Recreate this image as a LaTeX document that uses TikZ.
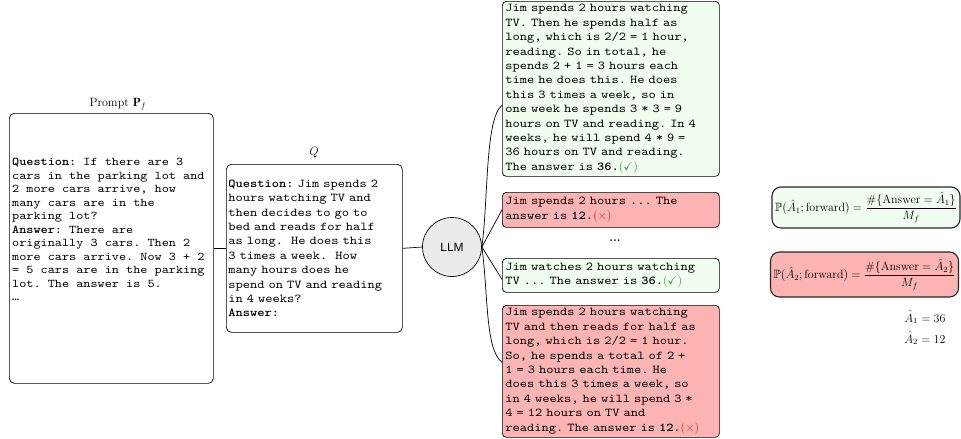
\documentclass[tikz,border=0pt]{standalone}
\usepackage{amsmath,amssymb}
\usepackage{fontspec}
\newfontfamily\monof{lmmono10-regular.otf}[BoldFont=lmmonolt10-bold.otf, FakeStretch=1.15]
\newfontfamily\sansf{Liberation Sans}
\usetikzlibrary{calc}
\definecolor{okfill}{RGB}{240,253,240}
\definecolor{badfill}{RGB}{255,180,180}
\definecolor{okgreen}{RGB}{40,160,40}
\definecolor{badred}{RGB}{235,30,30}
\definecolor{llmgray}{RGB}{235,235,235}
\newcommand{\okmark}{\textcolor{okgreen}{\normalfont($\checkmark$)}}
\newcommand{\badmark}{\textcolor{badred}{\normalfont($\times$)}}
\begin{document}
\begin{tikzpicture}[x=1pt,y=-1pt,
  every node/.append style={font=\fontsize{12}{14.4}\selectfont},
  box/.style={draw, rounded corners=5pt, line width=0.7pt},
  monotext/.style={font=\monof\fontsize{12}{14.4}\selectfont\frenchspacing},
  ans/.style={draw, rounded corners=4pt, line width=0.7pt, anchor=north west,
    inner xsep=3pt, inner ysep=0pt, text width=211pt, align=left, monotext},
  fbox/.style={draw=black!85, line width=1.1pt, rounded corners=9pt,
    inner xsep=1pt, inner ysep=3pt, minimum width=188pt},
  conn/.style={line width=0.7pt}]
\useasboundingbox (0,0) rectangle (961,439);

% Prompt
\node[box, anchor=north west, minimum width=204pt, minimum height=270pt] (prompt) at (9,113) {};
\node (plabel) at (118,104) {Prompt $\mathbf{P}_f$};
\node[anchor=north west, inner sep=0pt, align=left,
  font=\monof\fontsize{11.8}{13.5}\selectfont\frenchspacing] (ptext) at (12,158)
{\textbf{Question:} If there are 3\\
cars in the parking lot and\\
2 more cars arrive, how\\
many cars are in the\\
parking lot?\\
\textbf{Answer:} There are\\
originally 3 cars. Then 2\\
more cars arrive. Now 3 + 2\\
= 5 cars are in the parking\\
lot. The answer is 5.\\
…};

% Q
\node[box, anchor=north west, minimum height=168pt, text width=172pt,
  inner xsep=2pt, align=left, monotext] (q) at (226,164)
{\textbf{Question:} Jim spends 2\\
hours watching TV and\\
then decides to go to\\
bed and reads for half\\
as long.\ \ He does this\\
3 times a week.\ \ How\\
many hours does he\\
spend on TV and reading\\
in 4 weeks?\\
\textbf{Answer:}};
\node (qlabel) at (314,153) {$Q$};

% LLM
\node[circle, draw, line width=0.7pt, fill=llmgray, minimum size=59pt, inner sep=0pt,
  font=\sansf\fontsize{12}{14}\selectfont] (llm) at (452,247) {LLM};

% answers
\node[ans, fill=okfill, minimum height=175pt] (b1) at (502,1)
{Jim spends 2 hours watching\\
TV. Then he spends half as\\
long, which is 2/2 = 1 hour,\\
reading. So in total, he\\
spends 2 + 1 = 3 hours each\\
time he does this. He does\\
this 3 times a week, so in\\
one week he spends 3 * 3 = 9\\
hours on TV and reading. In 4\\
weeks, he will spend 4 * 9 =\\
36 hours on TV and reading.\\
The answer is \textbf{36.}\okmark};

\node[ans, fill=badfill, minimum height=35pt] (b2) at (502,192)
{Jim spends 2 hours ... The\\
answer is \textbf{12.}\badmark};

\node[font=\bfseries\fontsize{12}{14.4}\selectfont] (dots) at (615,241) {...};

\node[ans, fill=okfill, minimum height=34pt] (b3) at (502,258)
{Jim watches 2 hours watching\\
TV ... The answer is \textbf{36.}\okmark};

\node[ans, fill=badfill, minimum height=132pt] (b4) at (502,305)
{Jim spends 2 hours watching\\
TV and then reads for half as\\
long, which is 2/2 = 1 hour.\\
So, he spends a total of 2 +\\
1 = 3 hours each time. He\\
does this 3 times a week, so\\
in 4 weeks, he will spend 3 *\\
4 = 12 hours on TV and\\
reading. The answer is \textbf{12.}\badmark};

% connectors
\draw[conn] (prompt.east) -- (q.west);
\draw[conn] (q.east) -- (llm.west);
\draw[conn] (llm.east) .. controls +(6.5,-47) and +(-17,13) .. ([yshift=-16.5pt]b1.west);
\draw[conn] (llm.east) -- (b2.west);
\draw[conn] (llm.east) -- ([yshift=-4pt]b3.west);
\draw[conn] (llm.east) .. controls +(6.5,47) and +(-17,-13) .. ([yshift=9pt]b4.west);

% formulas
\node[fbox, fill=okfill, minimum height=41pt] (f1) at (866,207.5)
{$\displaystyle \mathbb{P}(\hat{A}_1;\text{forward}) = \frac{\#\{\text{Answer} = \hat{A}_1\}}{M_f}$};
\node[fbox, fill=badfill, minimum height=45pt] (f2) at (864.5,274.5)
{$\displaystyle \mathbb{P}(\hat{A}_2;\text{forward}) = \frac{\#\{\text{Answer} = \hat{A}_2\}}{M_f}$};
\node[anchor=base east] (a1) at (949,322) {$\hat{A}_1 = 36$};
\node[anchor=base east] (a2) at (949,343) {$\hat{A}_2 = 12$};
\end{tikzpicture}
\end{document}
